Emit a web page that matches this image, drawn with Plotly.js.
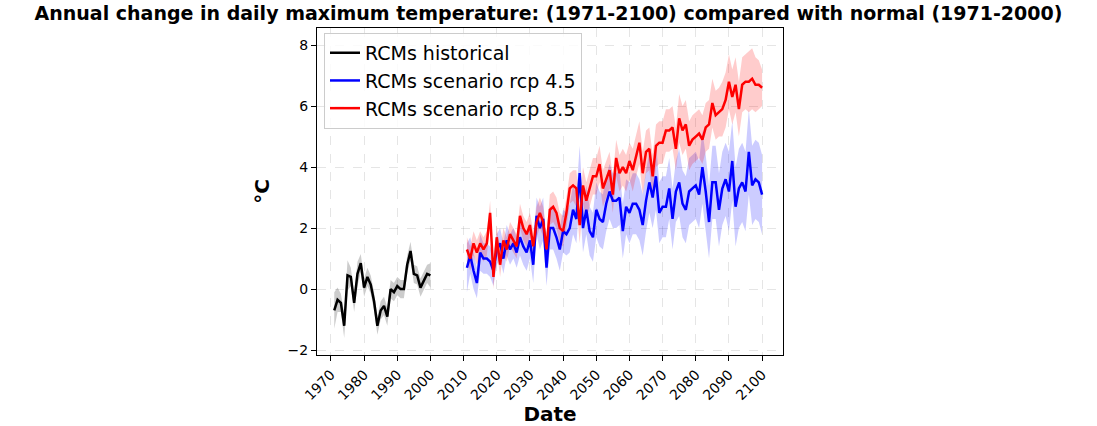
<!DOCTYPE html>
<html>
<head>
<meta charset="utf-8">
<script src="https://cdn.plot.ly/plotly-3.0.1.min.js"></script>
<style>html,body{margin:0;padding:0;background:#fff}</style>
</head>
<body>
<div id="plot" style="width:1097px;height:426px"></div>
<script>
const histYears = Array.from({ length: 30 }, (_, i) => 1971 + i);
const scenYears = Array.from({ length: 90 }, (_, i) => 2011 + i);

const histMean = [
  -0.7, -0.35, -0.45, -1.2, 0.45, 0.4, -0.45, 0.5, 0.85, 0.05,
  0.4, 0.15, -0.4, -1.2, -0.7, -0.55, -0.9, 0.0, -0.1, 0.1,
  0.0, 0.0, 0.8, 1.25, 0.5, 0.45, 0.05, 0.25, 0.5, 0.45,
];
const histSpread = [
  0.6, 0.4, 0.3, 0.4, 0.5, 0.3, 0.3, 0.4, 0.3, 0.3,
  0.3, 0.3, 0.3, 0.3, 0.3, 0.3, 0.3, 0.3, 0.3, 0.3,
  0.3, 0.3, 0.3, 0.3, 0.3, 0.3, 0.3, 0.3, 0.3, 0.4,
];

const rcp45Mean = [
  0.7, 1.1, 0.6, 0.2, 1.2, 1.0, 1.0, 0.9, 0.6, 1.3,
  1.5, 1.0, 1.6, 1.3, 1.5, 1.2, 1.7, 1.4, 1.2, 1.6,
  0.8, 2.4, 2.0, 2.3, 0.7, 2.0, 2.0, 1.7, 1.3, 1.9,
  1.8, 2.0, 2.6, 2.3, 3.8, 2.0, 2.6, 1.9, 1.7, 2.6,
  2.3, 2.2, 2.8, 3.2, 2.9, 2.9, 3.0, 1.9, 2.7, 2.5,
  2.8, 2.8, 2.6, 2.1, 2.9, 3.5, 3.0, 3.7, 2.5, 2.7,
  2.7, 3.3, 2.3, 3.2, 3.5, 2.8, 2.6, 3.2, 3.3, 3.4,
  3.1, 4.0, 3.2, 2.2, 3.5, 3.5, 2.6, 3.3, 3.6, 3.2,
  4.2, 2.7, 3.3, 3.5, 3.2, 4.5, 3.4, 3.6, 3.5, 3.1,
];
const rcp45Spread = [
  0.8, 0.6, 0.6, 0.5, 0.6, 0.5, 0.5, 0.5, 0.5, 0.5,
  0.5, 0.5, 0.5, 0.5, 0.5, 0.5, 0.6, 0.6, 0.6, 0.6,
  0.6, 0.6, 0.7, 0.7, 0.6, 0.7, 0.7, 0.7, 0.7, 0.7,
  0.7, 0.8, 0.8, 0.8, 0.9, 0.8, 0.8, 0.8, 0.8, 0.9,
  0.9, 0.9, 0.9, 0.9, 0.9, 0.9, 0.9, 0.9, 0.9, 1.0,
  1.0, 1.0, 1.0, 1.0, 1.0, 1.0, 1.0, 1.1, 1.0, 1.0,
  1.0, 1.0, 1.0, 1.0, 1.1, 1.1, 1.1, 1.1, 1.1, 1.1,
  1.1, 1.2, 1.2, 1.2, 1.2, 1.2, 1.2, 1.2, 1.2, 1.3,
  1.3, 1.3, 1.3, 1.3, 1.3, 1.4, 1.3, 1.3, 1.3, 1.3,
];

const rcp85Mean = [
  1.3, 1.0, 1.5, 1.2, 1.5, 1.3, 1.5, 2.5, 0.4, 1.7,
  0.8, 1.6, 1.3, 1.8, 1.6, 1.4, 2.4, 2.0, 1.8, 2.1,
  1.4, 2.2, 2.5, 2.2, 1.3, 2.6, 2.7, 2.5, 2.0, 1.9,
  2.5, 3.3, 3.4, 3.3, 2.1, 3.4, 2.9, 3.3, 3.7, 3.7,
  4.1, 3.3, 3.6, 3.9, 3.1, 4.3, 3.8, 4.0, 3.8, 4.2,
  3.9, 4.4, 4.8, 3.8, 4.5, 4.6, 3.7, 4.7, 4.8, 4.8,
  5.2, 5.2, 5.3, 4.6, 5.6, 5.2, 5.4, 4.7, 4.9, 5.0,
  5.1, 4.9, 5.3, 5.4, 6.1, 5.7, 5.8, 5.9, 6.2, 6.8,
  6.3, 6.7, 5.9, 6.7, 6.8, 6.8, 6.9, 6.7, 6.7, 6.6,
];
const rcp85Spread = [
  0.4, 0.4, 0.4, 0.4, 0.4, 0.4, 0.4, 0.4, 0.4, 0.4,
  0.4, 0.4, 0.4, 0.4, 0.4, 0.4, 0.4, 0.4, 0.4, 0.4,
  0.5, 0.5, 0.5, 0.5, 0.5, 0.5, 0.5, 0.5, 0.5, 0.5,
  0.5, 0.5, 0.5, 0.6, 0.6, 0.6, 0.6, 0.6, 0.6, 0.6,
  0.6, 0.6, 0.6, 0.6, 0.6, 0.6, 0.6, 0.6, 0.6, 0.6,
  0.7, 0.7, 0.7, 0.7, 0.7, 0.7, 0.7, 0.7, 0.7, 0.7,
  0.7, 0.7, 0.7, 0.7, 0.8, 0.8, 0.8, 0.8, 0.8, 0.8,
  0.8, 0.8, 0.8, 0.8, 0.8, 0.8, 0.8, 0.9, 0.9, 0.9,
  0.9, 0.9, 0.9, 0.9, 0.9, 1.0, 1.0, 0.9, 0.8, 0.6,
];

const xTicks = [1970, 1980, 1990, 2000, 2010, 2020, 2030, 2040, 2050, 2060, 2070, 2080, 2090, 2100];
const yTicks = [-2, 0, 2, 4, 6, 8];

const font = '"DejaVu Sans", Arial, sans-serif';

function band(x, mean, spread, fill) {
  const upper = mean.map((v, i) => v + spread[i]);
  const lower = mean.map((v, i) => v - spread[i]);
  return {
    x: x.concat(x.slice().reverse()),
    y: upper.concat(lower.reverse()),
    type: "scatter",
    mode: "lines",
    fill: "toself",
    fillcolor: fill,
    line: { width: 0 },
    showlegend: false,
    hoverinfo: "skip",
  };
}

function line(x, y, color, name) {
  return { x, y, type: "scatter", mode: "lines", name, line: { color, width: 2.5 } };
}

const traces = [
  band(histYears, histMean, histSpread, "rgba(0,0,0,0.2)"),
  band(scenYears, rcp45Mean, rcp45Spread, "rgba(0,0,255,0.2)"),
  band(scenYears, rcp85Mean, rcp85Spread, "rgba(255,0,0,0.2)"),
  line(histYears, histMean, "#000000", "RCMs historical"),
  line(scenYears, rcp45Mean, "#0000ff", "RCMs scenario rcp 4.5"),
  line(scenYears, rcp85Mean, "#ff0000", "RCMs scenario rcp 8.5"),
];

const axisCommon = {
  showline: true,
  mirror: true,
  linecolor: "#000",
  linewidth: 1,
  ticks: "outside",
  ticklen: 5,
  tickcolor: "#000",
  showgrid: true,
  gridcolor: "rgba(0,0,0,0.1)",
  griddash: "dash",
  zeroline: false,
  tickfont: { size: 14, family: font, color: "#000" },
};

const layout = {
  width: 1097,
  height: 426,
  paper_bgcolor: "#fff",
  plot_bgcolor: "#fff",
  margin: { l: 317, r: 314, t: 28, b: 71 },
  title: {
    text: "<b>Annual change in daily maximum temperature: (1971-2100) compared with normal (1971-2000)</b>",
    font: { size: 19, family: font, color: "#000" },
    x: 0.5, xanchor: "center", y: 0.985, yanchor: "top",
  },
  xaxis: {
    ...axisCommon,
    range: [1965.8, 2106.3],
    tickvals: xTicks,
    ticktext: xTicks.map(String),
    tickangle: -45,
    title: { text: "<b>Date</b>", font: { size: 20, family: font, color: "#000" }, standoff: 4 },
  },
  yaxis: {
    ...axisCommon,
    range: [-2.16, 8.56],
    tickvals: yTicks,
    title: { text: "<b>°C</b>", font: { size: 20, family: font, color: "#000" }, standoff: 12 },
  },
  showlegend: true,
  legend: {
    x: 0.015, y: 0.985, xanchor: "left", yanchor: "top",
    bgcolor: "rgba(255,255,255,0.85)",
    bordercolor: "#ccc",
    borderwidth: 1,
    font: { size: 19, family: font, color: "#000" },
    traceorder: "normal",
  },
};

Plotly.newPlot("plot", traces, layout, { displayModeBar: false, staticPlot: true });
</script>
</body>
</html>
